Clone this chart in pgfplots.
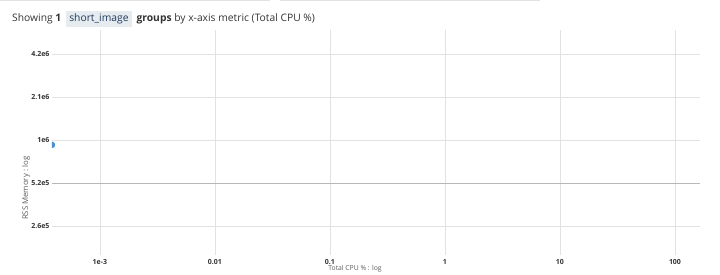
\documentclass[border=0pt]{standalone}
\usepackage{pgfplots}
\pgfplotsset{compat=1.18}
\usepackage{fontspec}
\setmainfont{Open Sans}
\definecolor{gridc}{HTML}{E2E2E2}
\definecolor{zeroc}{HTML}{B8B8B8}
\definecolor{txt}{HTML}{333333}
\definecolor{ptc}{HTML}{4A90CE}
\definecolor{chip}{HTML}{E6EBF0}
\begin{document}
\begin{tikzpicture}
\path[use as bounding box] (0pt,0pt) rectangle (720pt,275pt);
\draw[color=gridc,line width=0.8pt] (0pt,274.6pt) -- (270pt,274.6pt);
\draw[color=gridc,line width=0.8pt] (280pt,274.6pt) -- (540pt,274.6pt);
\node[anchor=west,inner sep=0pt,font=\fontsize{10.3}{12}\selectfont,text=txt] at (12pt,256pt)
 {Showing \textbf{1}\hspace{5pt}\colorbox{chip}{\textcolor[HTML]{1E3A5C}{short\_image}}\hspace{5pt}\textbf{groups} by x-axis metric (Total CPU \%)};
\begin{axis}[
 at={(52pt,20pt)}, anchor=south west,
 scale only axis, width=648pt, height=225pt,
 xmode=log, ymode=log,
 log basis y=2,
 xmin=3.83e-4, xmax=165,
 ymin=164000, ymax=6200000,
 axis line style={draw=none},
 tick style={draw=none},
 xtick={0.001,0.01,0.1,1,10,100},
 xticklabels={1e-3,0.01,0.1,1,10,100},
 ytick={262144,524288,1048576,2097152,4194304},
 yticklabels={2.6e5,5.2e5,1e6,2.1e6,4.2e6},
 xmajorgrids, ymajorgrids,
 grid style={gridc,line width=0.8pt},
 ticklabel style={font=\fontsize{7}{8}\selectfont\bfseries, text=txt},
 xticklabel style={yshift=-1pt},
 yticklabel style={xshift=1pt},
 clip=true, clip marker paths=true,
]
\addplot[draw=zeroc,line width=0.8pt,forget plot] coordinates {(3.83e-4,524288) (165,524288)};
\addplot[only marks,mark=*,mark size=3pt,color=ptc] coordinates {(3.83e-4,970000)};
\end{axis}
\node[rotate=90,font=\fontsize{7.8}{9}\selectfont,text=txt!80] at (26pt,87pt) {RSS Memory : log};
\node[font=\fontsize{6.8}{8}\selectfont,text=txt!80] at (355pt,6pt) {Total CPU \% : log};
\end{tikzpicture}
\end{document}
